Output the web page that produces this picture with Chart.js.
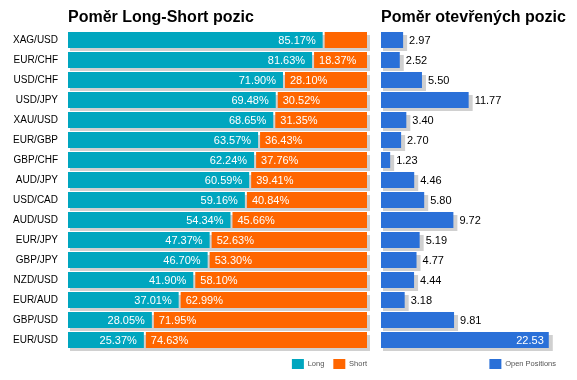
<!DOCTYPE html>
<html><head><meta charset="utf-8">
<script src="https://cdn.jsdelivr.net/npm/chart.js@4"></script>
<style>
html,body{margin:0;padding:0;background:#fff;width:577px;height:380px;overflow:hidden}
#cL{position:absolute;left:0;top:0}
#cR{position:absolute;left:375px;top:0}
</style></head><body>
<canvas id="cL" width="370" height="380"></canvas>
<canvas id="cR" width="202" height="380"></canvas>
<script>
const categories = ['XAG/USD','EUR/CHF','USD/CHF','USD/JPY','XAU/USD','EUR/GBP','GBP/CHF','AUD/JPY','USD/CAD','AUD/USD','EUR/JPY','GBP/JPY','NZD/USD','EUR/AUD','GBP/USD','EUR/USD'];
const longPct  = [85.17,81.63,71.90,69.48,68.65,63.57,62.24,60.59,59.16,54.34,47.37,46.70,41.90,37.01,28.05,25.37];
const shortPct = [14.83,18.37,28.10,30.52,31.35,36.43,37.76,39.41,40.84,45.66,52.63,53.30,58.10,62.99,71.95,74.63];
const openPositions = [2.97,2.52,5.50,11.77,3.40,2.70,1.23,4.46,5.80,9.72,5.19,4.77,4.44,3.18,9.81,22.53];
const seriesNames = ['Long','Short','Open Positions'];
const titleLeft = 'Poměr Long-Short pozic';
const titleRight = 'Poměr otevřených pozic';

const FONT = 'Arial, "Liberation Sans", sans-serif';
const TEAL = '#00a6bf', ORANGE = '#ff6600', BLUE = '#2a70d8', SHADOW = '#d0d0d0';

const shadowPlugin = {
  id: 'shadow',
  beforeDatasetsDraw(chart) {
    const ctx = chart.ctx;
    ctx.save();
    ctx.fillStyle = SHADOW;
    chart.data.datasets.forEach((ds, i) => {
      const meta = chart.getDatasetMeta(i);
      if (meta.hidden) return;
      meta.data.forEach(el => {
        const p = el.getProps(['x','y','base','height'], true);
        const l = Math.min(p.x, p.base), r = Math.max(p.x, p.base);
        ctx.fillRect(l + 2, p.y - p.height / 2 + 3, r - l + 2, p.height);
      });
    });
    ctx.restore();
  }
};

function titlePlugin(text) {
  return {
    id: 'ttl',
    afterDraw(chart) {
      const ctx = chart.ctx;
      ctx.save();
      ctx.font = 'bold 16px ' + FONT;
      ctx.fillStyle = '#000';
      ctx.textAlign = 'left';
      ctx.textBaseline = 'alphabetic';
      ctx.fillText(text, chart.chartArea.left, 22);
      ctx.restore();
    }
  };
}

// shift the legend so its last item ends at the right edge (no trailing padding)
const legendShift = {
  id: 'legendShift',
  afterLayout(chart) {
    if (chart.legend) { chart.legend.left += 9; chart.legend.right += 9; }
  }
};

const leftLabels = {
  id: 'lbl',
  afterDatasetsDraw(chart) {
    const ctx = chart.ctx;
    ctx.save();
    ctx.font = '11px ' + FONT;
    ctx.fillStyle = '#fff';
    ctx.textBaseline = 'middle';
    chart.data.datasets.forEach((ds, i) => {
      const meta = chart.getDatasetMeta(i);
      meta.data.forEach((el, j) => {
        const p = el.getProps(['x','y','base'], true);
        const t = ds.data[j].toFixed(2) + '%';
        const tw = ctx.measureText(t).width;
        const w = Math.abs(p.x - p.base);
        if (w < tw + 12) return;
        if (i === 0) { ctx.textAlign = 'right'; ctx.fillText(t, p.x - 7, p.y + 1); }
        else { ctx.textAlign = 'left'; ctx.fillText(t, p.base + 7, p.y + 1); }
      });
    });
    ctx.restore();
  }
};

const rightLabels = {
  id: 'lblr',
  afterDatasetsDraw(chart) {
    const ctx = chart.ctx;
    ctx.save();
    ctx.font = '11px ' + FONT;
    ctx.textBaseline = 'middle';
    const meta = chart.getDatasetMeta(0);
    meta.data.forEach((el, j) => {
      const p = el.getProps(['x','y','base'], true);
      const t = openPositions[j].toFixed(2);
      const tw = ctx.measureText(t).width;
      if (p.x + 6 + tw > chart.chartArea.right) {
        ctx.fillStyle = '#fff'; ctx.textAlign = 'right'; ctx.fillText(t, p.x - 5, p.y + 1);
      } else {
        ctx.fillStyle = '#000'; ctx.textAlign = 'left'; ctx.fillText(t, p.x + 6, p.y + 1);
      }
    });
    ctx.restore();
  }
};

function legendOpts() {
  return {
    display: true,
    position: 'bottom',
    align: 'end',
    labels: {
      boxWidth: 12, boxHeight: 10, padding: 9,
      color: '#555',
      font: { family: FONT, size: 7.5 },
      generateLabels(chart) {
        return Chart.defaults.plugins.legend.labels.generateLabels(chart).map(it => {
          it.lineWidth = 0; it.strokeStyle = 'rgba(0,0,0,0)'; return it;
        });
      }
    }
  };
}

new Chart(document.getElementById('cL'), {
  type: 'bar',
  data: {
    labels: categories,
    datasets: [
      { label: seriesNames[0], data: longPct, backgroundColor: TEAL, borderWidth: 0 },
      { label: seriesNames[1], data: shortPct, backgroundColor: ORANGE,
        borderColor: 'rgba(0,0,0,0)', borderWidth: { left: 2, right: 0, top: 0, bottom: 0 }, borderSkipped: false }
    ]
  },
  options: {
    indexAxis: 'y',
    responsive: false,
    animation: false,
    layout: { padding: { top: 30, right: 3, bottom: 1, left: 0 } },
    datasets: { bar: { barPercentage: 0.8, categoryPercentage: 1 } },
    scales: {
      x: { stacked: true, min: 0, max: 100, display: false },
      y: {
        stacked: true,
        grid: { display: false, drawTicks: false },
        border: { display: false },
        ticks: { color: '#000', font: { family: FONT, size: 10 }, padding: 10 },
        afterFit(s) { s.width = 68; }
      }
    },
    plugins: { legend: legendOpts(), tooltip: { enabled: false } }
  },
  plugins: [shadowPlugin, titlePlugin(titleLeft), leftLabels, legendShift]
});

new Chart(document.getElementById('cR'), {
  type: 'bar',
  data: {
    labels: categories,
    datasets: [
      { label: seriesNames[2], data: openPositions, backgroundColor: BLUE, borderWidth: 0 }
    ]
  },
  options: {
    indexAxis: 'y',
    responsive: false,
    animation: false,
    layout: { padding: { top: 30, right: 21, bottom: 1, left: 6 } },
    datasets: { bar: { barPercentage: 0.8, categoryPercentage: 1 } },
    scales: {
      x: { min: 0, max: 23.5, display: false },
      y: { display: false }
    },
    plugins: { legend: legendOpts(), tooltip: { enabled: false } }
  },
  plugins: [shadowPlugin, titlePlugin(titleRight), rightLabels, legendShift]
});
</script>
</body></html>
